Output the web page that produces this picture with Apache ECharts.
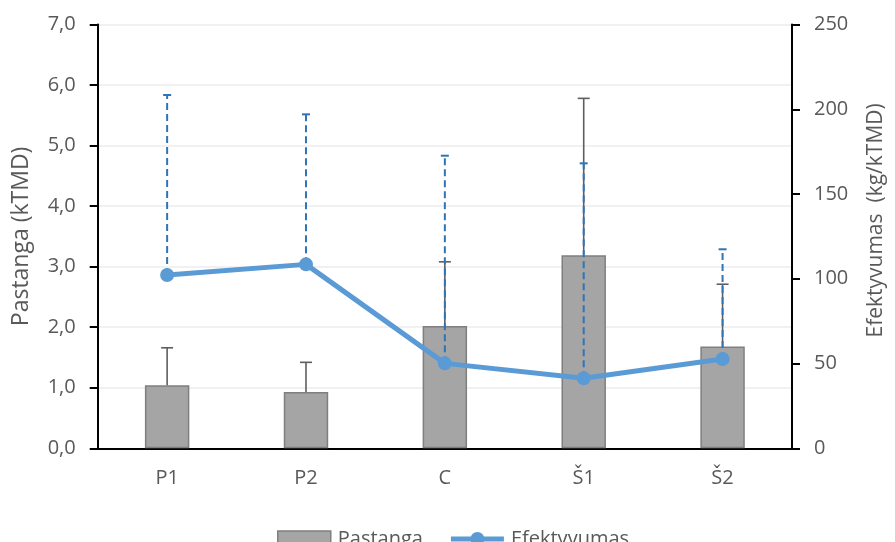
<!DOCTYPE html>
<html>
<head>
<meta charset="utf-8">
<script src="https://cdn.jsdelivr.net/npm/echarts@6/dist/echarts.min.js"></script>
<style>
  html, body { margin: 0; padding: 0; background: #fff; }
  #chart { width: 895px; height: 542px; }
</style>
</head>
<body>
<div id="chart"></div>
<script>
// Categories and measured values
const categories = ['P1', 'P2', 'C', 'Š1', 'Š2'];
const pastanga = [1.04, 0.93, 2.02, 3.19, 1.68];          // kTMD, left axis
const pastangaSd = [0.62, 0.49, 1.06, 2.59, 1.03];        // upper error
const efektyvumas = [102.2, 108.5, 50.1, 41.3, 52.7];     // kg/kTMD, right axis
const efektyvumasSd = [106.2, 88.5, 122.5, 126.8, 64.7];  // upper error
const leftTicks = [0, 1, 2, 3, 4, 5, 6, 7];
const rightTicks = [0, 50, 100, 150, 200, 250];

const textColor = '#595959';
const fontFamily = '"Open Sans", "Noto Sans", sans-serif';

// Vertical error whisker with a horizontal cap at the upper end
function errorRenderer(color, capHalf, dashed) {
  return function (params, api) {
    const idx = api.value(0);
    const p0 = api.coord([idx, api.value(1)]);
    const p1 = api.coord([idx, api.value(2)]);
    const style = { stroke: color, lineWidth: dashed ? 2 : 1.6 };
    if (dashed) style.lineDash = [7, 4];
    return {
      type: 'group',
      children: [
        { type: 'line', shape: { x1: p0[0], y1: p0[1], x2: p1[0], y2: p1[1] }, style: style },
        { type: 'line', shape: { x1: p1[0] - capHalf, y1: p1[1], x2: p1[0] + capHalf, y2: p1[1] },
          style: { stroke: color, lineWidth: dashed ? 2 : 1.6 } }
      ]
    };
  };
}

const barErrData = categories.map((c, i) => [i, pastanga[i], pastanga[i] + pastangaSd[i]]);
const lineErrData = categories.map((c, i) => [i, efektyvumas[i], efektyvumas[i] + efektyvumasSd[i]]);

// Legend marker for the line series: a thick stroke with a dot in the middle
const lineIcon = 'path://M0,5.5 L53,5.5 L53,10.5 L0,10.5 Z M19.5,8 A7,7 0 1,1 33.5,8 A7,7 0 1,1 19.5,8 Z';

const chart = echarts.init(document.getElementById('chart'), null, { renderer: 'canvas' });
chart.setOption({
  animation: false,
  textStyle: { fontFamily: fontFamily },
  grid: { left: 97.7, right: 96, top: 24.5, bottom: 93.7, containLabel: false },
  legend: {
    top: 524,
    left: 272,
    itemGap: 28,
    itemWidth: 53,
    itemHeight: 16,
    textStyle: { fontSize: 20, color: textColor, fontFamily: fontFamily, padding: [0, 0, 0, 2] },
    data: [
      { name: 'Pastanga', icon: 'rect', itemStyle: { color: '#A5A5A5', borderColor: '#7F7F7F', borderWidth: 1.5 } },
      { name: 'Efektyvumas', icon: lineIcon, itemStyle: { color: '#5B9BD5', borderWidth: 0 } }
    ]
  },
  xAxis: {
    type: 'category',
    data: categories,
    axisLine: { lineStyle: { color: '#000', width: 2 } },
    axisTick: { alignWithLabel: true, length: 6, lineStyle: { color: '#000', width: 2 } },
    axisLabel: { color: textColor, fontSize: 20, margin: 20 },
    splitLine: { show: false }
  },
  yAxis: [
    {
      type: 'value',
      min: leftTicks[0],
      max: leftTicks[leftTicks.length - 1],
      interval: 1,
      name: 'Pastanga (kTMD)',
      nameLocation: 'middle',
      nameRotate: 90,
      nameGap: 65,
      nameTextStyle: { color: textColor, fontSize: 23 },
      axisLine: { show: true, lineStyle: { color: '#000', width: 2 } },
      axisTick: { show: true, inside: false, length: 8, lineStyle: { color: '#000', width: 2 } },
      axisLabel: { color: textColor, fontSize: 20, margin: 22,
        formatter: v => v.toFixed(1).replace('.', ',') },
      splitLine: { show: true, lineStyle: { color: '#EDEDED', width: 1.5 } }
    },
    {
      type: 'value',
      min: rightTicks[0],
      max: rightTicks[rightTicks.length - 1],
      interval: 50,
      position: 'right',
      name: 'Efektyvumas  (kg/kTMD)',
      nameLocation: 'middle',
      nameRotate: 90,
      nameGap: 74,
      nameTextStyle: { color: textColor, fontSize: 21, padding: [0, 0, 0, 32] },
      axisLine: { show: true, lineStyle: { color: '#000', width: 2 } },
      axisTick: { show: true, inside: false, length: 8, lineStyle: { color: '#000', width: 2 } },
      axisLabel: { color: textColor, fontSize: 20, margin: 22 },
      splitLine: { show: false }
    }
  ],
  series: [
    {
      name: 'Pastanga',
      type: 'bar',
      yAxisIndex: 0,
      data: pastanga,
      barWidth: '32%',
      itemStyle: { color: '#A5A5A5', borderColor: '#7F7F7F', borderWidth: 1.5 },
      z: 2
    },
    {
      name: 'pastangaErr',
      type: 'custom',
      yAxisIndex: 0,
      data: barErrData,
      encode: { x: 0, y: [1, 2] },
      renderItem: errorRenderer('#5E5E5E', 6, false),
      z: 3,
      silent: true
    },
    {
      name: 'efektyvumasErr',
      type: 'custom',
      yAxisIndex: 1,
      data: lineErrData,
      encode: { x: 0, y: [1, 2] },
      renderItem: errorRenderer('#2E75B6', 4, true),
      z: 4,
      silent: true
    },
    {
      name: 'Efektyvumas',
      type: 'line',
      yAxisIndex: 1,
      data: efektyvumas,
      symbol: 'circle',
      symbolSize: 14,
      lineStyle: { color: '#5B9BD5', width: 5 },
      itemStyle: { color: '#5B9BD5' },
      z: 5
    }
  ]
});
</script>
</body>
</html>
